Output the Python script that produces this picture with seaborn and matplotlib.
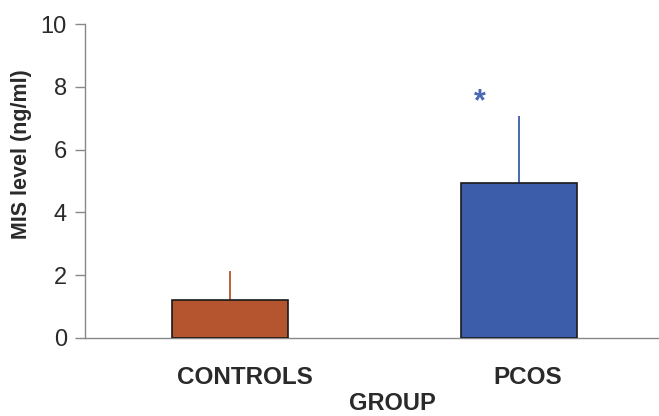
import matplotlib
matplotlib.use("Agg")
import matplotlib.pyplot as plt
import seaborn as sns
import pandas as pd

groups = ["CONTROLS", "PCOS"]
means = [1.22, 4.94]
sd_upper = [2.15, 7.08]
bar_colors = ["#B5552F", "#3B5DAA"]
star_label = "*"
y_ticks = [0, 2, 4, 6, 8, 10]

sns.set_theme(style="white")
plt.rcParams['font.family'] = ['Liberation Sans', 'DejaVu Sans']

fig = plt.figure(figsize=(6.59, 4.16), dpi=100)
ax = fig.add_axes([0.129, 0.1875, 0.871, 0.7545])

df = pd.DataFrame({"GROUP": groups, "MIS": means})
sns.barplot(data=df, x="GROUP", y="MIS", hue="GROUP", palette=bar_colors,
            saturation=1, width=0.4, errorbar=None, edgecolor="#1a1a1a",
            linewidth=1.2, legend=False, ax=ax, zorder=3)

for i, (m, u, c) in enumerate(zip(means, sd_upper, bar_colors)):
    ax.errorbar(i, m, yerr=[[0], [u - m]], fmt="none", ecolor=c,
                elinewidth=1.3, capsize=0, zorder=2)

ax.text(0.865, 7.5, star_label, color="#4A67B5", fontsize=22,
        fontweight="bold", ha="center", va="center")

ax.set_xlim(-0.502, 1.484)
ax.set_ylim(0, 10)
ax.set_yticks(y_ticks)
ax.set_yticklabels([str(t) for t in y_ticks], fontsize=17, color="#2a2a2a")
ax.tick_params(axis="y", length=7, width=1, color="#888888", pad=6,
               direction="out", left=True)
ax.tick_params(axis="x", length=0, pad=20)
ax.set_xticks([0.05, 1.03])
ax.set_xticklabels(groups, fontsize=17.5, fontweight="bold", color="#2a2a2a")

ax.set_xlabel("GROUP", fontsize=17, fontweight="bold", color="#2a2a2a")
ax.xaxis.set_label_coords(0.535, -0.172)
ax.set_ylabel("MIS level (ng/ml)", fontsize=15.5, fontweight="bold",
              color="#2a2a2a")
ax.yaxis.set_label_coords(-0.092, 0.586)

for s in ["top", "right"]:
    ax.spines[s].set_visible(False)
for s in ["left", "bottom"]:
    ax.spines[s].set_color("#888888")
    ax.spines[s].set_linewidth(1.0)

fig.savefig("out.png", dpi=100)
